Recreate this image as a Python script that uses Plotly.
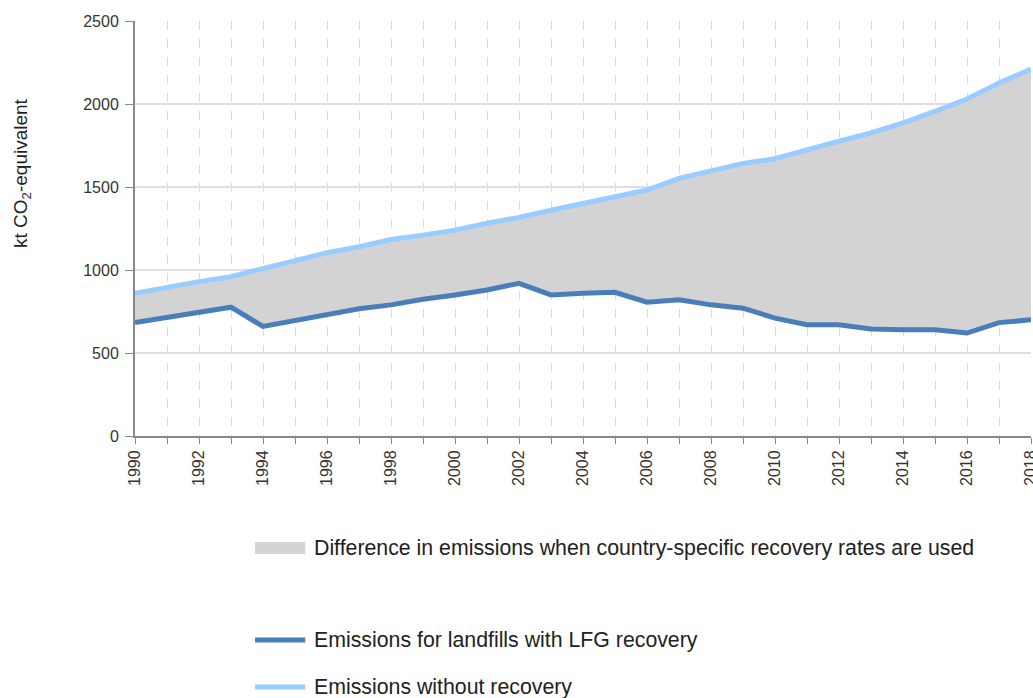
import plotly.graph_objects as go

years = list(range(1990, 2019))
with_recovery = [683, 716, 746, 776, 660, 696, 726, 766, 790, 824, 850, 880, 920,
                 850, 860, 866, 806, 820, 790, 770, 710, 670, 670, 644, 640, 640,
                 620, 683, 700]
without_recovery = [860, 896, 930, 960, 1008, 1058, 1104, 1140, 1184, 1210, 1240, 1282, 1317,
                    1360, 1400, 1436, 1482, 1552, 1598, 1642, 1670, 1726, 1776, 1826, 1886, 1956,
                    2030, 2126, 2210]

fill_name = "Difference in emissions when country-specific recovery rates are used"
low_name = "Emissions for landfills with LFG recovery"
high_name = "Emissions without recovery"
fill_col, low_col, high_col = "#d3d3d3", "#4a7ebb", "#99ccff"
FONT = "Liberation Sans, Arial, sans-serif"

fig = go.Figure()
# grey band between the two series
fig.add_trace(go.Scatter(x=years, y=with_recovery, mode="lines", line=dict(width=0),
                         showlegend=False, hoverinfo="skip"))
fig.add_trace(go.Scatter(x=years, y=without_recovery, mode="lines", line=dict(width=0),
                         fill="tonexty", fillcolor=fill_col, name=fill_name, showlegend=False))
# lines on top
fig.add_trace(go.Scatter(x=years, y=with_recovery, mode="lines", name=low_name,
                         line=dict(color=low_col, width=5), showlegend=False))
fig.add_trace(go.Scatter(x=years, y=without_recovery, mode="lines", name=high_name,
                         line=dict(color=high_col, width=5), showlegend=False))

# hand-made legend below the chart (uneven spacing like the original)
lx0, lx1, tx = 0.134, 0.190, 0.197
fig.add_shape(type="rect", xref="paper", yref="paper", x0=lx0, x1=lx1, y0=-0.2843, y1=-0.2554,
              fillcolor=fill_col, line=dict(width=0))
fig.add_shape(type="line", xref="paper", yref="paper", x0=lx0, x1=lx1, y0=-0.4916, y1=-0.4916,
              line=dict(color=low_col, width=5))
fig.add_shape(type="line", xref="paper", yref="paper", x0=lx0, x1=lx1, y0=-0.6048, y1=-0.6048,
              line=dict(color=high_col, width=5))
for txt, yy in [(fill_name, -0.2699), (low_name, -0.4916), (high_name, -0.6048)]:
    fig.add_annotation(text=txt, xref="paper", yref="paper", x=tx, y=yy, showarrow=False,
                       xanchor="left", yanchor="middle",
                       font=dict(family=FONT, size=21.3, color="#222222"))

# y axis title, placed higher than the plot middle as in the original
fig.add_annotation(text="kt CO<sub>2</sub>-equivalent", xref="paper", yref="paper",
                   x=-0.1261, y=0.6337, textangle=-90, showarrow=False,
                   xanchor="center", yanchor="middle",
                   font=dict(family=FONT, size=19, color="#222222"))

tick_text = [str(y) if y % 2 == 0 else "" for y in years]

fig.update_layout(
    width=1033, height=698,
    margin=dict(l=135, r=2, t=21, b=262),
    plot_bgcolor="white", paper_bgcolor="white",
    font=dict(family=FONT, size=16, color="#333333"),
    xaxis=dict(range=[1990, 2018], tickvals=years, ticktext=tick_text, tickangle=-90,
               showgrid=True, gridcolor="#dcd8ea", griddash="dash", gridwidth=1,
               showline=True, linecolor="#888888", linewidth=2,
               ticks="outside", ticklen=6, tickcolor="#888888", zeroline=False,
               ticklabeloverflow="allow", automargin=False),
    yaxis=dict(range=[0, 2500], tickvals=[0, 500, 1000, 1500, 2000, 2500],
               showgrid=True, gridcolor="#e2dcea", gridwidth=2,
               showline=True, linecolor="#888888", linewidth=2,
               ticks="outside", ticklen=8, tickcolor="#888888", zeroline=False,
               ticklabelstandoff=3, automargin=False),
)

# drop the default body margin so the figure fills the window exactly
fig.write_html("out.html", config={"displayModeBar": False},
               post_script="document.body.style.margin='0';")
